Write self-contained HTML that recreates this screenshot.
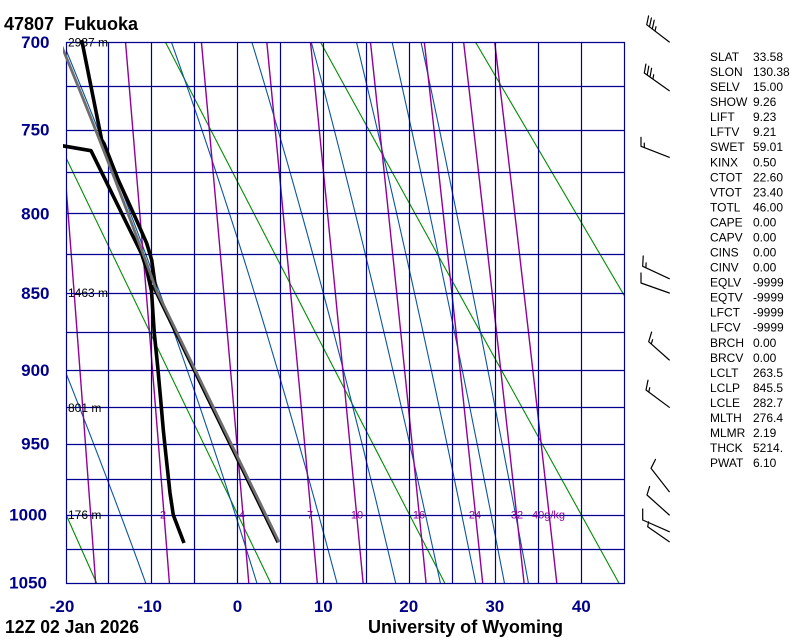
<!DOCTYPE html>
<html><head><meta charset="utf-8">
<style>
html,body{margin:0;padding:0;background:#fff;}
svg{display:block;}
text{font-family:"Liberation Sans",Arial,sans-serif;}
</style></head><body>
<svg id="s" width="800" height="640" viewBox="0 0 800 640" xmlns="http://www.w3.org/2000/svg">
<defs>
<clipPath id="c"><rect x="66" y="42" width="559" height="542"/></clipPath>
<clipPath id="c2"><rect x="63" y="40" width="562" height="545"/></clipPath>
</defs>
<rect width="800" height="640" fill="#fff"/>
<g id="curves" clip-path="url(#c)"></g>
<g id="grid"></g>

<!-- mixing ratio labels -->
<g font-size="11" fill="#90009a" text-anchor="middle">
<text x="163" y="518.5">2</text>
<text x="242" y="518.5">4</text>
<text x="310" y="518.5">7</text>
<text x="357" y="518.5">10</text>
<text x="419" y="518.5">16</text>
<text x="475" y="518.5">24</text>
<text x="517" y="518.5">32</text>
<text x="548.5" y="518.5">40g/kg</text>
</g>

<!-- height labels -->
<g font-size="12" fill="#000">
<text x="68" y="46.5">2937 m</text>
<text x="68" y="297">1463 m</text>
<text x="68" y="412">801 m</text>
<text x="68" y="519">176 m</text>
</g>

<g id="snd" clip-path="url(#c2)"></g>

<!-- y axis labels -->
<g font-size="17" font-weight="bold" fill="#000088" text-anchor="end">
<text x="49.5" y="48">700</text>
<text x="49.5" y="135.5">750</text>
<text x="49.5" y="219.5">800</text>
<text x="49.5" y="299">850</text>
<text x="49.5" y="376">900</text>
<text x="49.5" y="449.5">950</text>
<text x="47" y="520.5">1000</text>
<text x="47" y="588.5">1050</text>
</g>

<!-- x axis labels -->
<g font-size="17" font-weight="bold" fill="#000088" text-anchor="middle">
<text x="62" y="612">-20</text>
<text x="149.7" y="612">-10</text>
<text x="237.5" y="612">0</text>
<text x="323.3" y="612">10</text>
<text x="408.7" y="612">20</text>
<text x="494.8" y="612">30</text>
<text x="581.3" y="612">40</text>
</g>

<!-- titles -->
<g font-weight="bold" fill="#000" font-size="18">
<text x="4" y="30">47807</text>
<text x="64" y="30">Fukuoka</text>
<text x="5" y="633" textLength="134" lengthAdjust="spacingAndGlyphs">12Z 02 Jan 2026</text>
<text x="368" y="633" textLength="195" lengthAdjust="spacingAndGlyphs">University of Wyoming</text>
</g>

<!-- wind barbs -->
<g stroke="#000" stroke-width="1.2" fill="none" stroke-linecap="round">
<path d="M669.3 42L646.7 24.7M646.7 24.7L648.6 15.9M649.5 26.8L651.4 18M652.3 29L654.2 20.2M655 31.1L656 26.7"/>
<path d="M669.3 90.7L644.3 73M644.3 73L645.9 64.1M647.2 75L648.8 66.1M650 77L651.6 68.2M652.9 79.1L653.7 74.7"/>
<path d="M669.3 157.3L641 146.3M641 146.3L641 137.3M644.3 147.6L644.3 143.1"/>
<path d="M669.3 278.7L642.7 266.3M642.7 266.3L643.2 256M645.9 267.8L646.1 262.8"/>
<path d="M669.3 293L641 283M641 283L641 273"/>
<path d="M669.3 360L648.7 341.7M648.7 341.7L651.6 332.1M651.3 344L652.6 339.7"/>
<path d="M669.3 407.3L646 390M646 390L648 380.2M648.8 392.1L649.7 387.7"/>
<path d="M669.3 491.7L651 468.3M651 468.3L655.5 459.4"/>
<path d="M669.3 515L647 495M647 495L649.6 486.4"/>
<path d="M669.3 531.7L642.7 520M642.7 520L642.7 509"/>
<path d="M669.3 541.7L647.7 526.7M647.7 526.7L648.6 521.8"/>
</g>

<!-- stats table -->
<g font-size="12" fill="#000">
<text x="710" y="61">SLAT</text><text x="753" y="61">33.58</text>
<text x="710" y="76">SLON</text><text x="753" y="76">130.38</text>
<text x="710" y="91.1">SELV</text><text x="753" y="91.1">15.00</text>
<text x="710" y="106.1">SHOW</text><text x="753" y="106.1">9.26</text>
<text x="710" y="121.2">LIFT</text><text x="753" y="121.2">9.23</text>
<text x="710" y="136.2">LFTV</text><text x="753" y="136.2">9.21</text>
<text x="710" y="151.2">SWET</text><text x="753" y="151.2">59.01</text>
<text x="710" y="166.3">KINX</text><text x="753" y="166.3">0.50</text>
<text x="710" y="181.3">CTOT</text><text x="753" y="181.3">22.60</text>
<text x="710" y="196.4">VTOT</text><text x="753" y="196.4">23.40</text>
<text x="710" y="211.4">TOTL</text><text x="753" y="211.4">46.00</text>
<text x="710" y="226.4">CAPE</text><text x="753" y="226.4">0.00</text>
<text x="710" y="241.5">CAPV</text><text x="753" y="241.5">0.00</text>
<text x="710" y="256.5">CINS</text><text x="753" y="256.5">0.00</text>
<text x="710" y="271.6">CINV</text><text x="753" y="271.6">0.00</text>
<text x="710" y="286.6">EQLV</text><text x="753" y="286.6">-9999</text>
<text x="710" y="301.6">EQTV</text><text x="753" y="301.6">-9999</text>
<text x="710" y="316.7">LFCT</text><text x="753" y="316.7">-9999</text>
<text x="710" y="331.7">LFCV</text><text x="753" y="331.7">-9999</text>
<text x="710" y="346.8">BRCH</text><text x="753" y="346.8">0.00</text>
<text x="710" y="361.8">BRCV</text><text x="753" y="361.8">0.00</text>
<text x="710" y="376.8">LCLT</text><text x="753" y="376.8">263.5</text>
<text x="710" y="391.9">LCLP</text><text x="753" y="391.9">845.5</text>
<text x="710" y="406.9">LCLE</text><text x="753" y="406.9">282.7</text>
<text x="710" y="422">MLTH</text><text x="753" y="422">276.4</text>
<text x="710" y="437">MLMR</text><text x="753" y="437">2.19</text>
<text x="710" y="452">THCK</text><text x="753" y="452">5214.</text>
<text x="710" y="467.1">PWAT</text><text x="753" y="467.1">6.10</text>
</g>
</svg>
<script>
(function(){
var NS="http://www.w3.org/2000/svg";
function el(parent,tag,attrs){var e=document.createElementNS(NS,tag);for(var k in attrs)e.setAttribute(k,attrs[k]);parent.appendChild(e);return e;}
var K=0.286,P0=Math.pow(700,K),P1=Math.pow(1050,K);
function Y(p){return 42+(Math.pow(p,K)-P0)/(P1-P0)*541;}
function X(t){return 66+(t+20)*8.585;}
function es(tc){return 6.112*Math.exp(17.67*tc/(tc+243.5));}
function thetae(tk,p){var e=es(tk-273.15);var r=622*e/(p-e);return tk*Math.pow(1000/p,0.2854*(1-0.00028*r))*Math.exp((3.376/tk-0.00254)*r*(1+0.00081*r));}
function moistT(te,p){var lo=180,hi=335;for(var i=0;i<50;i++){var m=(lo+hi)/2;if(thetae(m,p)>te)hi=m;else lo=m;}return (lo+hi)/2-273.15;}
function pts(a){return a.map(function(q){return q[0].toFixed(2)+','+q[1].toFixed(2);}).join(' ');}

var cg=document.getElementById('curves');
// dry adiabats
[-20,0,20,40,60].forEach(function(th){
  var a=[];[700,1050].forEach(function(p){a.push([X((th+273.15)*Math.pow(p/1000,K)-273.15),Y(p)]);});
  el(cg,'polyline',{points:pts(a),fill:'none',stroke:'#008c00','stroke-width':'1.1'});
});
// moist adiabats
for(var te=263.15;te<=403.2;te+=20){
  var a=[];for(var p=700;p<=1050;p+=5){a.push([X(moistT(te,p)),Y(p)]);}
  el(cg,'polyline',{points:pts(a),fill:'none',stroke:'#0a55a0','stroke-width':'1.1'});
}
// mixing ratio
[1,2,4,7,10,16,24,32,40].forEach(function(r){
  var a=[];for(var p=700;p<=1050;p+=5){var e=r*p/(622+r);var al=Math.log(e/6.112);var t=243.5*al/(17.67-al);a.push([X(t),Y(p)]);}
  el(cg,'polyline',{points:pts(a),fill:'none',stroke:'#90009a','stroke-width':'1.4'});
});

// grid
var gg=document.getElementById('grid');var d='';
for(var p=700;p<=1050;p+=25){var y=Math.round(Y(p))+0.5;d+='M66 '+y+'H625 ';}
for(var t=-20;t<=45;t+=5){var x=Math.floor(X(t))+0.5;d+='M'+x+' 42V584 ';}
el(gg,'path',{d:d,fill:'none',stroke:'#000090','stroke-width':'1.2'});

// sounding
var sg=document.getElementById('snd');
var temp=[[81.7,40],[101.7,140],[104,143.5],[118.3,180],[135,216.7],[146.7,243.3],[151.7,260],[155,284],[156,290]];
// follow dry adiabat down (slightly offset)
var th=276.4;
for(var p=845.5;p<=1020;p+=5){var tt=th*Math.pow(p/1000,K)-273.15;temp.push([X(tt)-1,Y(p)]);}
temp.push([X(th*Math.pow(1.02,K)-273.15)-1,Y(1020)]);
el(sg,'polyline',{points:pts(temp),fill:'none',stroke:'#000','stroke-width':'3.6','stroke-linejoin':'round'});
var dew=[[62,145.7],[91,150.7],[141.7,254],[146.5,269],[151.5,291],[154.3,333.3],[157.7,366.7],[160.7,400],[163.3,430],[165.7,453],[170,493],[173.3,515],[184,543]];
el(sg,'polyline',{points:pts(dew),fill:'none',stroke:'#000','stroke-width':'3.6','stroke-linejoin':'round'});
// parcel
var par=[];
par.push([X(th*Math.pow(1.02,K)-273.15),Y(1020)]);
for(var p=1015;p>845.5;p-=5){par.push([X(th*Math.pow(p/1000,K)-273.15),Y(p)]);}
par.push([X(263.5-273.15),Y(845.5)]);
for(var p=840;p>=690;p-=5){par.push([X(moistT(282.7,p)),Y(p)]);}
el(sg,'polyline',{points:pts(par),fill:'none',stroke:'#6e6e6e','stroke-width':'2.8','stroke-linejoin':'round'});
})();
</script>
</body></html>
